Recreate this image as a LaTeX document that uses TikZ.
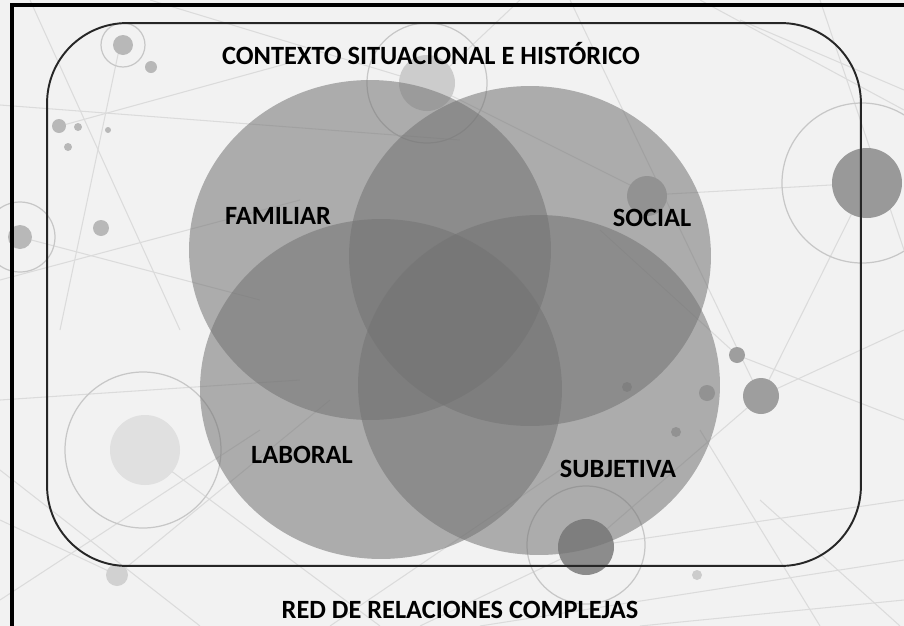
\documentclass[tikz,border=0pt]{standalone}
\usepackage{fontspec}
\setmainfont{Carlito}
\usetikzlibrary{positioning,shapes.geometric}

\begin{document}
\begin{tikzpicture}[x=0.02cm,y=-0.02cm,
    esfera/.style={ellipse, draw=none, fill=black!55, fill opacity=0.55, inner sep=0pt,
        minimum width=7.24cm, minimum height=6.8cm},
    etiqueta/.style={font=\fontsize{15}{18}\selectfont\bfseries, text=black, inner sep=1pt},
    hilo/.style={draw=black!14, line width=0.6pt},
    punto/.style={fill=black!28},
    anillo/.style={draw=black!22, line width=0.7pt}]
        \useasboundingbox (0,0) rectangle (904,626);
        \fill[black!5] (0,0) rectangle (904,626);

        % Red de fondo
        \foreach \xa/\ya/\xb/\yb in {0/105/460/140, 30/0/180/330, 0/280/300/200, 120/45/60/330,
            150/0/430/85, 430/85/650/195, 650/195/867/183, 570/0/760/396, 700/0/904/110,
            740/20/904/90, 867/183/761/396, 761/396/904/330, 761/396/586/547, 737/355/904/420,
            737/355/600/230, 586/547/904/500, 586/547/420/626, 143/450/380/626, 0/400/300/380,
            117/575/330/400, 117/575/0/520, 0/600/260/430, 480/626/904/560, 820/626/700/430,
            20/237/260/300, 60/126/300/60, 820/0/904/250, 900/626/760/500, 430/85/520/0,
            0/470/200/626, 330/626/560/470, 640/626/904/600}
            \draw[hilo] (\xa,\ya) -- (\xb,\yb);

        % Anillos y puntos
        \draw[anillo] (123,45) circle [radius=22];
        \draw[anillo] (427,83) circle [radius=60];
        \draw[anillo] (20,237) circle [radius=35];
        \draw[anillo] (862,183) circle [radius=80];
        \draw[anillo] (143,450) circle [radius=78];
        \draw[anillo] (586,545) circle [radius=59];
        \fill[punto] (123,45) circle [radius=10];
        \fill[punto] (151,67) circle [radius=6];
        \fill[punto] (59,126) circle [radius=7];
        \fill[punto] (78,127) circle [radius=4];
        \fill[punto] (68,147) circle [radius=4];
        \fill[punto] (108,130) circle [radius=3];
        \fill[punto] (101,228) circle [radius=8];
        \fill[punto] (20,237) circle [radius=12];
        \fill[black!20] (427,83) circle [radius=28];
        \fill[punto] (647,196) circle [radius=20];
        \fill[black!40] (867,183) circle [radius=35];
        \fill[black!38] (737,355) circle [radius=8];
        \fill[black!38] (761,396) circle [radius=18];
        \fill[punto] (707,393) circle [radius=8];
        \fill[punto] (676,432) circle [radius=5];
        \fill[punto] (627,387) circle [radius=5];
        \fill[black!12] (145,450) circle [radius=35];
        \fill[black!18] (117,575) circle [radius=11];
        \fill[black!20] (697,575) circle [radius=5];
        \fill[black!45] (586,547) circle [radius=28];

        % Marco exterior
        \draw[line width=2pt] (12,626) -- (12,5) -- (904,5);

        % Contexto
        \node[draw=black!85, line width=1.1pt, rounded corners=1.6cm, inner sep=0pt,
            minimum width=16.28cm, minimum height=10.86cm] (marco) at (454,294.5) {};

        % Esferas
        \node[esfera] (circfam) at (370,250) {};
        \node[esfera] (circsoc) at (530,256) {};
        \node[esfera] (circlab) at (381,389) {};
        \node[esfera] (circsub) at (539,385) {};

        % Textos
        \node[etiqueta] (contexto) at (431,54) {CONTEXTO SITUACIONAL E HISTÓRICO};
        \node[etiqueta] (familiar) at (278,216) {FAMILIAR};
        \node[etiqueta] (social) at (652,218) {SOCIAL};
        \node[etiqueta] (laboral) at (302,455) {LABORAL};
        \node[etiqueta] (subjetiva) at (618,469) {SUBJETIVA};
        \node[etiqueta] (red) at (460,610) {RED DE RELACIONES COMPLEJAS};
    \end{tikzpicture}
\end{document}
